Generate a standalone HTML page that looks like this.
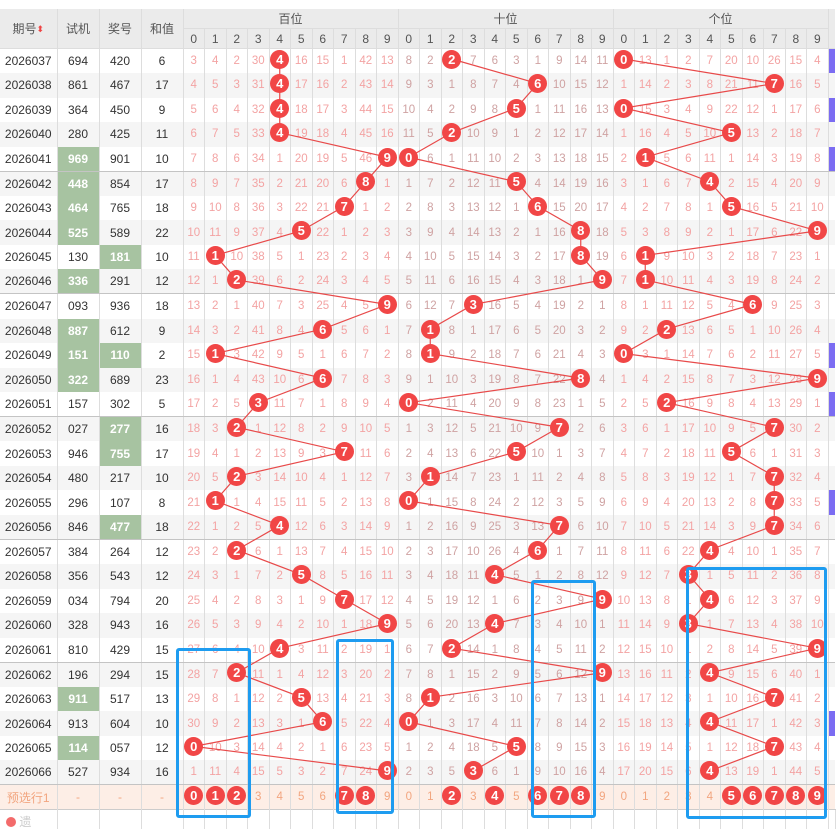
<!DOCTYPE html>
<html><head><meta charset="utf-8">
<style>
html,body{margin:0;padding:0;background:#fff;width:836px;height:829px;overflow:hidden;position:relative;font-family:"Liberation Sans","Noto Sans CJK SC",sans-serif}
table{position:absolute;left:0;top:9px;border-collapse:collapse;table-layout:fixed;width:836px;font-size:12px}
td,th{padding:0;text-align:center;overflow:hidden;white-space:nowrap;border-left:1px solid #ddd}
thead th{background:#ebebeb;color:#555;font-weight:normal;height:19px;font-size:12px;border-bottom:1px solid #ddd}
thead tr.h1 th{font-size:12px}
tbody tr{height:24.55px}
tbody td{color:#f3a3a3;font-size:11.5px}
tbody td:nth-child(-n+4){color:#333;font-size:12px}
tbody td:nth-child(n+15):nth-child(-n+24){color:#cfa2a2}
tbody tr:nth-child(even) td{background:#f5f5f5}
tbody tr:nth-child(5n) td{border-bottom:1px solid #c4c4c4}
td.g{background:#a7c3a1!important;color:#fff!important;font-weight:bold}
td.p{background:#7b6cf2!important}
tr.pre td{background:#fdeee6!important;color:#f2a57f!important;border-top:1px solid #ccc}
tr.last td{background:#fff!important;height:22px;border-top:1px solid #ccc}
.b{position:absolute;width:19px;height:19px;border-radius:50%;background:#f14646;color:#fff;font:bold 13px/19px "Liberation Sans",sans-serif;text-align:center;left:calc(184.25px + var(--c)*21.5px);top:calc(49.5px + var(--r)*24.55px)}
.box{position:absolute;box-sizing:border-box;border:3px solid #1e9cf0;border-radius:3px}
.sort{font-size:9px;color:#e44;vertical-align:1px}
</style></head><body>
<table>
<colgroup><col style="width:57px"><col style="width:42px"><col style="width:42px"><col style="width:42px">
<col span="30" style="width:21.5px"><col style="width:7px"></colgroup>
<thead>
<tr class="h1"><th rowspan="2" style="border-left:none">期号<span class="sort">⬍</span></th><th rowspan="2">试机</th><th rowspan="2">奖号</th><th rowspan="2">和值</th><th colspan="10">百位</th><th colspan="10">十位</th><th colspan="10">个位</th><th rowspan="2"></th></tr>
<tr><th>0</th><th>1</th><th>2</th><th>3</th><th>4</th><th>5</th><th>6</th><th>7</th><th>8</th><th>9</th><th>0</th><th>1</th><th>2</th><th>3</th><th>4</th><th>5</th><th>6</th><th>7</th><th>8</th><th>9</th><th>0</th><th>1</th><th>2</th><th>3</th><th>4</th><th>5</th><th>6</th><th>7</th><th>8</th><th>9</th></tr>
</thead>
<tbody>
<tr><td style="border-left:none">2026037<td>694<td>420<td>6<td>3<td>4<td>2<td>30<td><td>16<td>15<td>1<td>42<td>13<td>8<td>2<td><td>7<td>6<td>3<td>1<td>9<td>14<td>11<td><td>13<td>1<td>2<td>7<td>20<td>10<td>26<td>15<td>4<td class="p"></tr>
<tr><td style="border-left:none">2026038<td>861<td>467<td>17<td>4<td>5<td>3<td>31<td><td>17<td>16<td>2<td>43<td>14<td>9<td>3<td>1<td>8<td>7<td>4<td><td>10<td>15<td>12<td>1<td>14<td>2<td>3<td>8<td>21<td>11<td><td>16<td>5<td></tr>
<tr><td style="border-left:none">2026039<td>364<td>450<td>9<td>5<td>6<td>4<td>32<td><td>18<td>17<td>3<td>44<td>15<td>10<td>4<td>2<td>9<td>8<td><td>1<td>11<td>16<td>13<td><td>15<td>3<td>4<td>9<td>22<td>12<td>1<td>17<td>6<td class="p"></tr>
<tr><td style="border-left:none">2026040<td>280<td>425<td>11<td>6<td>7<td>5<td>33<td><td>19<td>18<td>4<td>45<td>16<td>11<td>5<td><td>10<td>9<td>1<td>2<td>12<td>17<td>14<td>1<td>16<td>4<td>5<td>10<td><td>13<td>2<td>18<td>7<td></tr>
<tr><td style="border-left:none">2026041<td class="g">969<td>901<td>10<td>7<td>8<td>6<td>34<td>1<td>20<td>19<td>5<td>46<td><td><td>6<td>1<td>11<td>10<td>2<td>3<td>13<td>18<td>15<td>2<td><td>5<td>6<td>11<td>1<td>14<td>3<td>19<td>8<td class="p"></tr>
<tr><td style="border-left:none">2026042<td class="g">448<td>854<td>17<td>8<td>9<td>7<td>35<td>2<td>21<td>20<td>6<td><td>1<td>1<td>7<td>2<td>12<td>11<td><td>4<td>14<td>19<td>16<td>3<td>1<td>6<td>7<td><td>2<td>15<td>4<td>20<td>9<td></tr>
<tr><td style="border-left:none">2026043<td class="g">464<td>765<td>18<td>9<td>10<td>8<td>36<td>3<td>22<td>21<td><td>1<td>2<td>2<td>8<td>3<td>13<td>12<td>1<td><td>15<td>20<td>17<td>4<td>2<td>7<td>8<td>1<td><td>16<td>5<td>21<td>10<td></tr>
<tr><td style="border-left:none">2026044<td class="g">525<td>589<td>22<td>10<td>11<td>9<td>37<td>4<td><td>22<td>1<td>2<td>3<td>3<td>9<td>4<td>14<td>13<td>2<td>1<td>16<td><td>18<td>5<td>3<td>8<td>9<td>2<td>1<td>17<td>6<td>22<td><td></tr>
<tr><td style="border-left:none">2026045<td>130<td class="g">181<td>10<td>11<td><td>10<td>38<td>5<td>1<td>23<td>2<td>3<td>4<td>4<td>10<td>5<td>15<td>14<td>3<td>2<td>17<td><td>19<td>6<td><td>9<td>10<td>3<td>2<td>18<td>7<td>23<td>1<td></tr>
<tr><td style="border-left:none">2026046<td class="g">336<td>291<td>12<td>12<td>1<td><td>39<td>6<td>2<td>24<td>3<td>4<td>5<td>5<td>11<td>6<td>16<td>15<td>4<td>3<td>18<td>1<td><td>7<td><td>10<td>11<td>4<td>3<td>19<td>8<td>24<td>2<td></tr>
<tr><td style="border-left:none">2026047<td>093<td>936<td>18<td>13<td>2<td>1<td>40<td>7<td>3<td>25<td>4<td>5<td><td>6<td>12<td>7<td><td>16<td>5<td>4<td>19<td>2<td>1<td>8<td>1<td>11<td>12<td>5<td>4<td><td>9<td>25<td>3<td></tr>
<tr><td style="border-left:none">2026048<td class="g">887<td>612<td>9<td>14<td>3<td>2<td>41<td>8<td>4<td><td>5<td>6<td>1<td>7<td><td>8<td>1<td>17<td>6<td>5<td>20<td>3<td>2<td>9<td>2<td><td>13<td>6<td>5<td>1<td>10<td>26<td>4<td></tr>
<tr><td style="border-left:none">2026049<td class="g">151<td class="g">110<td>2<td>15<td><td>3<td>42<td>9<td>5<td>1<td>6<td>7<td>2<td>8<td><td>9<td>2<td>18<td>7<td>6<td>21<td>4<td>3<td><td>3<td>1<td>14<td>7<td>6<td>2<td>11<td>27<td>5<td class="p"></tr>
<tr><td style="border-left:none">2026050<td class="g">322<td>689<td>23<td>16<td>1<td>4<td>43<td>10<td>6<td><td>7<td>8<td>3<td>9<td>1<td>10<td>3<td>19<td>8<td>7<td>22<td><td>4<td>1<td>4<td>2<td>15<td>8<td>7<td>3<td>12<td>28<td><td></tr>
<tr><td style="border-left:none">2026051<td>157<td>302<td>5<td>17<td>2<td>5<td><td>11<td>7<td>1<td>8<td>9<td>4<td><td>2<td>11<td>4<td>20<td>9<td>8<td>23<td>1<td>5<td>2<td>5<td><td>16<td>9<td>8<td>4<td>13<td>29<td>1<td class="p"></tr>
<tr><td style="border-left:none">2026052<td>027<td class="g">277<td>16<td>18<td>3<td><td>1<td>12<td>8<td>2<td>9<td>10<td>5<td>1<td>3<td>12<td>5<td>21<td>10<td>9<td><td>2<td>6<td>3<td>6<td>1<td>17<td>10<td>9<td>5<td><td>30<td>2<td></tr>
<tr><td style="border-left:none">2026053<td>946<td class="g">755<td>17<td>19<td>4<td>1<td>2<td>13<td>9<td>3<td><td>11<td>6<td>2<td>4<td>13<td>6<td>22<td><td>10<td>1<td>3<td>7<td>4<td>7<td>2<td>18<td>11<td><td>6<td>1<td>31<td>3<td></tr>
<tr><td style="border-left:none">2026054<td>480<td>217<td>10<td>20<td>5<td><td>3<td>14<td>10<td>4<td>1<td>12<td>7<td>3<td><td>14<td>7<td>23<td>1<td>11<td>2<td>4<td>8<td>5<td>8<td>3<td>19<td>12<td>1<td>7<td><td>32<td>4<td></tr>
<tr><td style="border-left:none">2026055<td>296<td>107<td>8<td>21<td><td>1<td>4<td>15<td>11<td>5<td>2<td>13<td>8<td><td>1<td>15<td>8<td>24<td>2<td>12<td>3<td>5<td>9<td>6<td>9<td>4<td>20<td>13<td>2<td>8<td><td>33<td>5<td class="p"></tr>
<tr><td style="border-left:none">2026056<td>846<td class="g">477<td>18<td>22<td>1<td>2<td>5<td><td>12<td>6<td>3<td>14<td>9<td>1<td>2<td>16<td>9<td>25<td>3<td>13<td><td>6<td>10<td>7<td>10<td>5<td>21<td>14<td>3<td>9<td><td>34<td>6<td></tr>
<tr><td style="border-left:none">2026057<td>384<td>264<td>12<td>23<td>2<td><td>6<td>1<td>13<td>7<td>4<td>15<td>10<td>2<td>3<td>17<td>10<td>26<td>4<td><td>1<td>7<td>11<td>8<td>11<td>6<td>22<td><td>4<td>10<td>1<td>35<td>7<td></tr>
<tr><td style="border-left:none">2026058<td>356<td>543<td>12<td>24<td>3<td>1<td>7<td>2<td><td>8<td>5<td>16<td>11<td>3<td>4<td>18<td>11<td><td>5<td>1<td>2<td>8<td>12<td>9<td>12<td>7<td><td>1<td>5<td>11<td>2<td>36<td>8<td></tr>
<tr><td style="border-left:none">2026059<td>034<td>794<td>20<td>25<td>4<td>2<td>8<td>3<td>1<td>9<td><td>17<td>12<td>4<td>5<td>19<td>12<td>1<td>6<td>2<td>3<td>9<td><td>10<td>13<td>8<td>1<td><td>6<td>12<td>3<td>37<td>9<td></tr>
<tr><td style="border-left:none">2026060<td>328<td>943<td>16<td>26<td>5<td>3<td>9<td>4<td>2<td>10<td>1<td>18<td><td>5<td>6<td>20<td>13<td><td>7<td>3<td>4<td>10<td>1<td>11<td>14<td>9<td><td>1<td>7<td>13<td>4<td>38<td>10<td></tr>
<tr><td style="border-left:none">2026061<td>810<td>429<td>15<td>27<td>6<td>4<td>10<td><td>3<td>11<td>2<td>19<td>1<td>6<td>7<td><td>14<td>1<td>8<td>4<td>5<td>11<td>2<td>12<td>15<td>10<td>1<td>2<td>8<td>14<td>5<td>39<td><td></tr>
<tr><td style="border-left:none">2026062<td>196<td>294<td>15<td>28<td>7<td><td>11<td>1<td>4<td>12<td>3<td>20<td>2<td>7<td>8<td>1<td>15<td>2<td>9<td>5<td>6<td>12<td><td>13<td>16<td>11<td>2<td><td>9<td>15<td>6<td>40<td>1<td></tr>
<tr><td style="border-left:none">2026063<td class="g">911<td>517<td>13<td>29<td>8<td>1<td>12<td>2<td><td>13<td>4<td>21<td>3<td>8<td><td>2<td>16<td>3<td>10<td>6<td>7<td>13<td>1<td>14<td>17<td>12<td>3<td>1<td>10<td>16<td><td>41<td>2<td></tr>
<tr><td style="border-left:none">2026064<td>913<td>604<td>10<td>30<td>9<td>2<td>13<td>3<td>1<td><td>5<td>22<td>4<td><td>1<td>3<td>17<td>4<td>11<td>7<td>8<td>14<td>2<td>15<td>18<td>13<td>4<td><td>11<td>17<td>1<td>42<td>3<td class="p"></tr>
<tr><td style="border-left:none">2026065<td class="g">114<td>057<td>12<td><td>10<td>3<td>14<td>4<td>2<td>1<td>6<td>23<td>5<td>1<td>2<td>4<td>18<td>5<td><td>8<td>9<td>15<td>3<td>16<td>19<td>14<td>5<td>1<td>12<td>18<td><td>43<td>4<td></tr>
<tr><td style="border-left:none">2026066<td>527<td>934<td>16<td>1<td>11<td>4<td>15<td>5<td>3<td>2<td>7<td>24<td><td>2<td>3<td>5<td><td>6<td>1<td>9<td>10<td>16<td>4<td>17<td>20<td>15<td>6<td><td>13<td>19<td>1<td>44<td>5<td></tr>
<tr class="pre"><td style="border-left:none">预选行1<td>-<td>-<td>-<td><td><td><td>3<td>4<td>5<td>6<td><td><td>9<td>0<td>1<td><td>3<td><td>5<td><td><td><td>9<td>0<td>1<td>2<td>3<td>4<td><td><td><td><td><td></tr>
<tr class="last"><td style="border-left:none;text-align:left;padding-left:6px;color:#ccc"><span style="display:inline-block;width:10px;height:10px;border-radius:50%;background:#f36b6b;vertical-align:-1px"></span> 遗<td><td><td><td><td><td><td><td><td><td><td><td><td><td><td><td><td><td><td><td><td><td><td><td><td><td><td><td><td><td><td><td><td><td><td></tr>
</tbody>
</table>

<svg width="836" height="829" style="position:absolute;left:0;top:0">
<g transform="translate(193.75 59) scale(21.5 24.55)" fill="none" stroke="#e84a4a" stroke-width="1.2">
<polyline vector-effect="non-scaling-stroke" points="4,0 4,1 4,2 4,3 9,4 8,5 7,6 5,7 1,8 2,9 9,10 6,11 1,12 6,13 3,14 2,15 7,16 2,17 1,18 4,19 2,20 5,21 7,22 9,23 4,24 2,25 5,26 6,27 0,28 9,29"/>
<polyline vector-effect="non-scaling-stroke" points="12,0 16,1 15,2 12,3 10,4 15,5 16,6 18,7 18,8 19,9 13,10 11,11 11,12 18,13 10,14 17,15 15,16 11,17 10,18 17,19 16,20 14,21 19,22 14,23 12,24 19,25 11,26 10,27 15,28 13,29"/>
<polyline vector-effect="non-scaling-stroke" points="20,0 27,1 20,2 25,3 21,4 24,5 25,6 29,7 21,8 21,9 26,10 22,11 20,12 29,13 22,14 27,15 25,16 27,17 27,18 27,19 24,20 23,21 24,22 23,23 29,24 24,25 27,26 24,27 27,28 24,29"/>
</g>
</svg>

<div class="b" style="--c:4;--r:0">4</div><div class="b" style="--c:4;--r:1">4</div><div class="b" style="--c:4;--r:2">4</div><div class="b" style="--c:4;--r:3">4</div><div class="b" style="--c:9;--r:4">9</div><div class="b" style="--c:8;--r:5">8</div><div class="b" style="--c:7;--r:6">7</div><div class="b" style="--c:5;--r:7">5</div><div class="b" style="--c:1;--r:8">1</div><div class="b" style="--c:2;--r:9">2</div><div class="b" style="--c:9;--r:10">9</div><div class="b" style="--c:6;--r:11">6</div><div class="b" style="--c:1;--r:12">1</div><div class="b" style="--c:6;--r:13">6</div><div class="b" style="--c:3;--r:14">3</div><div class="b" style="--c:2;--r:15">2</div><div class="b" style="--c:7;--r:16">7</div><div class="b" style="--c:2;--r:17">2</div><div class="b" style="--c:1;--r:18">1</div><div class="b" style="--c:4;--r:19">4</div><div class="b" style="--c:2;--r:20">2</div><div class="b" style="--c:5;--r:21">5</div><div class="b" style="--c:7;--r:22">7</div><div class="b" style="--c:9;--r:23">9</div><div class="b" style="--c:4;--r:24">4</div><div class="b" style="--c:2;--r:25">2</div><div class="b" style="--c:5;--r:26">5</div><div class="b" style="--c:6;--r:27">6</div><div class="b" style="--c:0;--r:28">0</div><div class="b" style="--c:9;--r:29">9</div>

<div class="b" style="--c:12;--r:0">2</div><div class="b" style="--c:16;--r:1">6</div><div class="b" style="--c:15;--r:2">5</div><div class="b" style="--c:12;--r:3">2</div><div class="b" style="--c:10;--r:4">0</div><div class="b" style="--c:15;--r:5">5</div><div class="b" style="--c:16;--r:6">6</div><div class="b" style="--c:18;--r:7">8</div><div class="b" style="--c:18;--r:8">8</div><div class="b" style="--c:19;--r:9">9</div><div class="b" style="--c:13;--r:10">3</div><div class="b" style="--c:11;--r:11">1</div><div class="b" style="--c:11;--r:12">1</div><div class="b" style="--c:18;--r:13">8</div><div class="b" style="--c:10;--r:14">0</div><div class="b" style="--c:17;--r:15">7</div><div class="b" style="--c:15;--r:16">5</div><div class="b" style="--c:11;--r:17">1</div><div class="b" style="--c:10;--r:18">0</div><div class="b" style="--c:17;--r:19">7</div><div class="b" style="--c:16;--r:20">6</div><div class="b" style="--c:14;--r:21">4</div><div class="b" style="--c:19;--r:22">9</div><div class="b" style="--c:14;--r:23">4</div><div class="b" style="--c:12;--r:24">2</div><div class="b" style="--c:19;--r:25">9</div><div class="b" style="--c:11;--r:26">1</div><div class="b" style="--c:10;--r:27">0</div><div class="b" style="--c:15;--r:28">5</div><div class="b" style="--c:13;--r:29">3</div>

<div class="b" style="--c:20;--r:0">0</div><div class="b" style="--c:27;--r:1">7</div><div class="b" style="--c:20;--r:2">0</div><div class="b" style="--c:25;--r:3">5</div><div class="b" style="--c:21;--r:4">1</div><div class="b" style="--c:24;--r:5">4</div><div class="b" style="--c:25;--r:6">5</div><div class="b" style="--c:29;--r:7">9</div><div class="b" style="--c:21;--r:8">1</div><div class="b" style="--c:21;--r:9">1</div><div class="b" style="--c:26;--r:10">6</div><div class="b" style="--c:22;--r:11">2</div><div class="b" style="--c:20;--r:12">0</div><div class="b" style="--c:29;--r:13">9</div><div class="b" style="--c:22;--r:14">2</div><div class="b" style="--c:27;--r:15">7</div><div class="b" style="--c:25;--r:16">5</div><div class="b" style="--c:27;--r:17">7</div><div class="b" style="--c:27;--r:18">7</div><div class="b" style="--c:27;--r:19">7</div><div class="b" style="--c:24;--r:20">4</div><div class="b" style="--c:23;--r:21">3</div><div class="b" style="--c:24;--r:22">4</div><div class="b" style="--c:23;--r:23">3</div><div class="b" style="--c:29;--r:24">9</div><div class="b" style="--c:24;--r:25">4</div><div class="b" style="--c:27;--r:26">7</div><div class="b" style="--c:24;--r:27">4</div><div class="b" style="--c:27;--r:28">7</div><div class="b" style="--c:24;--r:29">4</div>

<div class="b" style="--c:0;--r:30">0</div><div class="b" style="--c:1;--r:30">1</div><div class="b" style="--c:2;--r:30">2</div><div class="b" style="--c:7;--r:30">7</div><div class="b" style="--c:8;--r:30">8</div>
<div class="b" style="--c:12;--r:30">2</div><div class="b" style="--c:14;--r:30">4</div><div class="b" style="--c:16;--r:30">6</div><div class="b" style="--c:17;--r:30">7</div><div class="b" style="--c:18;--r:30">8</div>
<div class="b" style="--c:25;--r:30">5</div><div class="b" style="--c:26;--r:30">6</div><div class="b" style="--c:27;--r:30">7</div><div class="b" style="--c:28;--r:30">8</div><div class="b" style="--c:29;--r:30">9</div>

<div class="box" style="left:176px;top:648px;width:75px;height:170px"></div>
<div class="box" style="left:336px;top:639px;width:58px;height:175px"></div>
<div class="box" style="left:531px;top:580px;width:65px;height:238px"></div>
<div class="box" style="left:686px;top:567px;width:141px;height:252px"></div>
</body></html>
